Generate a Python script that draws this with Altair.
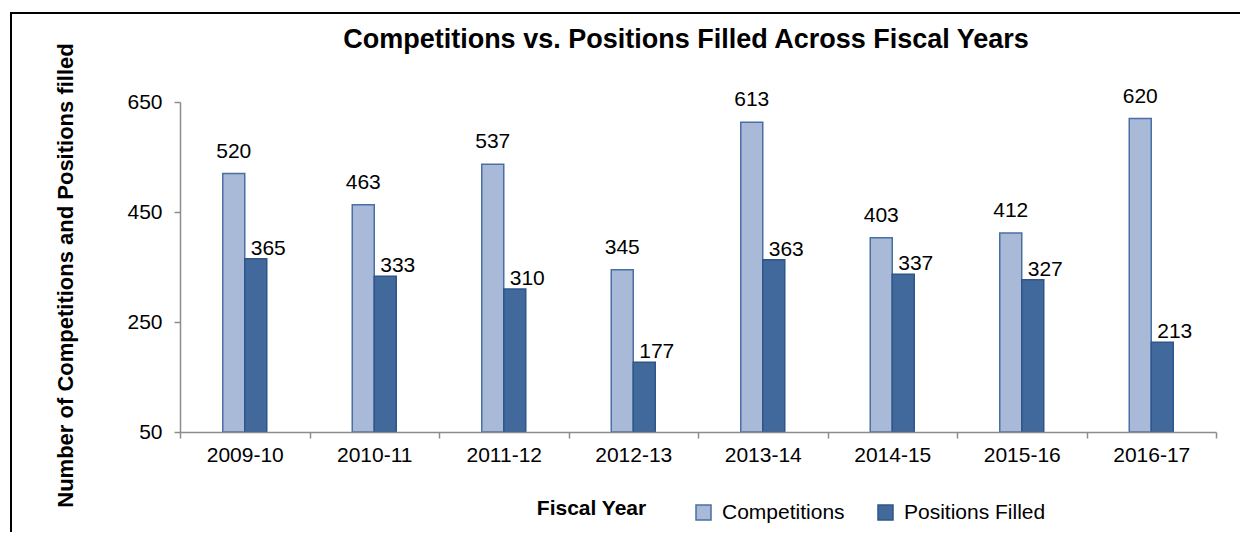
import altair as alt
import pandas as pd

years = ["2009-10", "2010-11", "2011-12", "2012-13", "2013-14", "2014-15", "2015-16", "2016-17"]
competitions = [520, 463, 537, 345, 613, 403, 412, 620]
positions_filled = [365, 333, 310, 177, 363, 337, 327, 213]
series_names = ["Competitions", "Positions Filled"]
fill_colors = ["#A9B9D8", "#41699C"]
stroke_colors = ["#4A6FA5", "#2F558A"]
y_ticks = [50, 250, 450, 650]
y_min, y_max = 50, 650

rows = []
for y, c, p in zip(years, competitions, positions_filled):
    rows.append({"year": y, "series": series_names[0], "value": c, "base": y_min})
    rows.append({"year": y, "series": series_names[1], "value": p, "base": y_min})
df = pd.DataFrame(rows)

FONT = "Liberation Sans"
W, H = 1036, 330
STEP = W / len(years)
BAR = 22

x_enc = alt.X("year:N", sort=years,
              scale=alt.Scale(paddingInner=0, paddingOuter=0),
              axis=alt.Axis(title="Fiscal Year", tickBand="extent", labelAngle=0,
                            labelFontSize=21, labelFont=FONT, labelColor="black",
                            labelPadding=6, tickSize=6, tickColor="#8C8C8C",
                            domainColor="#8C8C8C", domainWidth=1.5, tickWidth=1.5,
                            titleFont=FONT, titleFontSize=21, titleFontWeight="bold",
                            titleColor="black", titleX=411, titleY=76,
                            titleAlign="center", titleBaseline="middle", zindex=1))
xoff = alt.XOffset("series:N", sort=series_names,
                   scale=alt.Scale(paddingInner=0, paddingOuter=0,
                                   range=[STEP / 2 - BAR, STEP / 2 + BAR]))
y_enc = alt.Y("value:Q",
              scale=alt.Scale(domain=[y_min, y_max], nice=False, zero=False),
              axis=alt.Axis(title="Number of Competitions and Positions  filled",
                            values=y_ticks, grid=False,
                            labelFontSize=21, labelFont=FONT, labelColor="black",
                            labelPadding=12, tickSize=6, tickColor="#8C8C8C",
                            tickWidth=1.5, domainColor="#8C8C8C", domainWidth=1.5,
                            titleFont=FONT, titleFontSize=22, titleFontWeight="bold",
                            titleColor="black", titleAngle=270, titleX=-115,
                            titleY=173, titleAlign="center", titleBaseline="middle",
                            zindex=1))

bars = alt.Chart(df).mark_bar(strokeWidth=1.5).encode(
    x=x_enc,
    xOffset=xoff,
    y=y_enc,
    y2="base:Q",
    color=alt.Color("series:N", sort=series_names,
                    scale=alt.Scale(domain=series_names, range=fill_colors),
                    legend=alt.Legend(title=None, orient="none", direction="horizontal",
                                      legendX=513, legendY=400, symbolType="square",
                                      symbolSize=225, symbolStrokeColor="#3F6699",
                                      symbolStrokeWidth=1.5, symbolOpacity=1,
                                      labelFont=FONT, labelFontSize=21,
                                      labelColor="black", labelOffset=8,
                                      columnPadding=30, padding=0)),
    stroke=alt.Stroke("series:N", sort=series_names,
                      scale=alt.Scale(domain=series_names, range=stroke_colors),
                      legend=None),
)

labels_comp = alt.Chart(df).transform_filter(
    alt.datum.series == series_names[0]
).mark_text(font=FONT, fontSize=21, color="black", baseline="alphabetic",
            align="center", dy=-16).encode(
    x=alt.X("year:N", sort=years),
    xOffset=alt.XOffset("series:N", sort=series_names),
    y="value:Q",
    text="value:Q",
)

labels_pos = alt.Chart(df).transform_filter(
    alt.datum.series == series_names[1]
).mark_text(font=FONT, fontSize=21, color="black", baseline="alphabetic",
            align="left", dx=-5, dy=-4).encode(
    x=alt.X("year:N", sort=years),
    xOffset=alt.XOffset("series:N", sort=series_names),
    y="value:Q",
    text="value:Q",
)

border = alt.Chart(pd.DataFrame({"k": [0]})).mark_rect(
    filled=False, stroke="black", strokeWidth=2, clip=False
).encode(
    x=alt.value(-169), x2=alt.value(W + 40),
    y=alt.value(-89), y2=alt.value(H + 150),
)

chart = alt.layer(border, bars, labels_comp, labels_pos).properties(
    width=W, height=H,
    autosize=alt.AutoSizeParams(type="none"),
    padding={"left": 172, "top": 94, "right": 24, "bottom": 100},
    title=alt.Title("Competitions vs. Positions Filled Across Fiscal Years",
                    font=FONT, fontSize=27, fontWeight="bold", color="black",
                    anchor="middle", frame="group", dx=-12, dy=63, offset=0,
                    baseline="alphabetic"),
).configure_view(stroke=None)

chart.save("out.html", embed_options={"renderer": "svg", "actions": False})
